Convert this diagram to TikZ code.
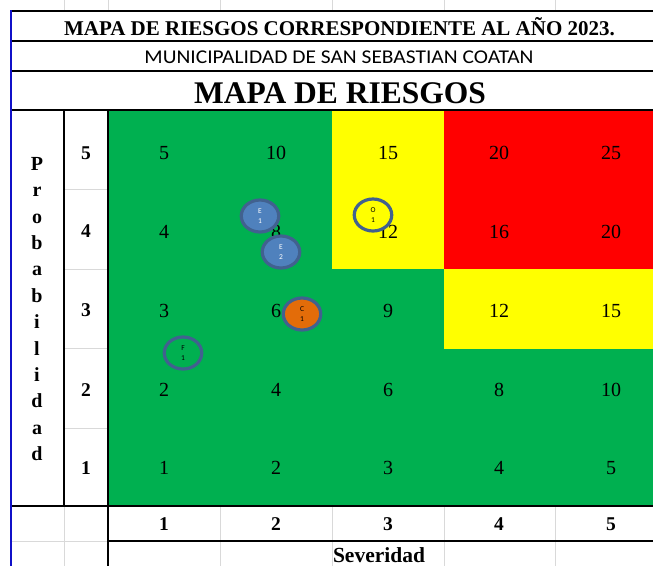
\documentclass[tikz,border=0pt]{standalone}
\usepackage{fontspec}
\setmainfont{Liberation Serif}
\newfontfamily\calib{Carlito}
\usetikzlibrary{shapes.geometric}
\definecolor{xgreen}{HTML}{00B050}
\definecolor{xyellow}{HTML}{FFFF00}
\definecolor{xred}{HTML}{FF0000}
\definecolor{gridc}{HTML}{D9D9D9}
\definecolor{edgeblue}{HTML}{1010C8}
\definecolor{ringc}{HTML}{41618F}
\definecolor{bluefill}{HTML}{4F81BD}
\definecolor{orangefill}{HTML}{E36C09}
\tikzset{
  heavy/.style={line width=2pt, black},
  light/.style={line width=0.8pt, gridc},
  num/.style={font=\fontsize{20}{22}\selectfont, inner sep=0pt},
  bnum/.style={font=\fontsize{19.5}{21}\selectfont\bfseries, inner sep=0pt},
  risk/.style={ellipse, draw=ringc, line width=3.2pt, minimum width=37.5pt, minimum height=32pt,
    inner sep=0pt, align=center, font=\calib\fontsize{7.5}{10.5}\selectfont},
}
\begin{document}
\begin{tikzpicture}[x=1pt,y=-1pt]
\useasboundingbox (0,0) rectangle (653,566);
\fill[white] (0,0) rectangle (653,566);
% spreadsheet gridline stubs above
\foreach \x in {64,108,220,332,444,555} \draw[light] (\x,0) -- (\x,11);
% colour cells
\fill[xgreen] (108,110) rectangle (653,506);
\fill[xyellow] (332,110) rectangle (444,269);
\fill[xyellow] (444,269) rectangle (653,348.5);
\fill[xred] (444,110) rectangle (653,269);
% light lines
\foreach \y in {189.5,269,348.5,428} \draw[light] (64,\y) -- (108,\y);
\draw[light] (64,506) -- (64,566);
\draw[light] (11,541) -- (108,541);
\foreach \x in {220,332,444,555} \draw[light] (\x,506) -- (\x,566);
% heavy lines
\foreach \y in {11,41,71,110,506} \draw[heavy] (11,\y) -- (653,\y);
\draw[heavy] (108,541) -- (653,541);
\draw[heavy] (64,110) -- (64,506);
\draw[heavy] (108,110) -- (108,566);
\draw[line width=1.6pt, edgeblue] (11,10) -- (11,566);
% headers
\node[font=\fontsize{21}{23}\selectfont\bfseries, inner sep=0pt] (title) at (339.5,27) {MAPA DE RIESGOS CORRESPONDIENTE AL AÑO 2023.};
\node[font=\calib\fontsize{19.5}{22}\selectfont, inner sep=0pt, xscale=1.1] (muni) at (339,57) {MUNICIPALIDAD DE SAN SEBASTIAN COATAN};
\node[font=\fontsize{31.5}{34}\selectfont\bfseries, inner sep=0pt] (mapa) at (340,93) {MAPA DE RIESGOS};
% probabilidad label
\node[font=\fontsize{20}{26.4}\selectfont\bfseries, align=center, inner sep=0pt] (prob) at (37,309)
  {P\\r\\o\\b\\a\\b\\i\\l\\i\\d\\a\\d};
% probability numbers
\foreach \p/\y in {5/153,4/231.5,3/310.5,2/390,1/468}
  \node[bnum] (p\p) at (86,\y) {\p};
% severity numbers
\foreach \s/\x in {1/164,2/276,3/388,4/499,5/611}
  \node[bnum] (s\s) at (\x,524) {\s};
\node[font=\fontsize{21.5}{23}\selectfont\bfseries, inner sep=0pt] (sev) at (379,555) {Severidad};
% grid values
\foreach \p/\y in {5/153,4/232,3/311,2/389.5,1/468}
  \foreach \s/\x in {1/164,2/276,3/388,4/499,5/611}{
    \pgfmathtruncatemacro{\v}{\p*\s}
    \node[num] (v\p\s) at (\x,\y) {\v};
  }
% risk markers
\node[risk, fill=bluefill, text=white] (e1) at (260,216) {E\\1};
\node[risk, fill=bluefill, text=white] (e2) at (281,252) {E\\2};
\node[risk, fill=xyellow] (o1) at (373,215) {O\\1};
\node[risk, fill=orangefill] (c1) at (302,314) {C\\1};
\node[risk, fill=xgreen] (f1) at (183,353) {F\\1};
\end{tikzpicture}
\end{document}
